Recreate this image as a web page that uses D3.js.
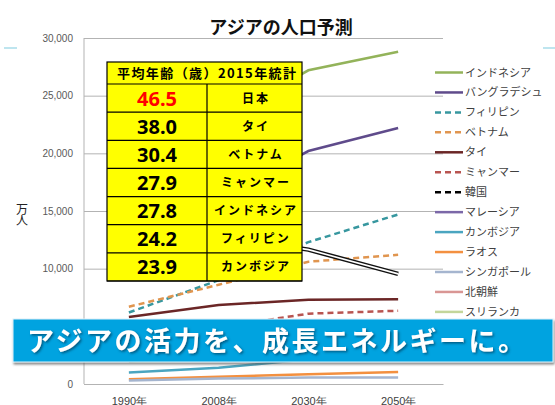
<!DOCTYPE html>
<html>
<head>
<meta charset="utf-8">
<script src="https://cdn.jsdelivr.net/npm/d3@7"></script>
<style>
  body { margin: 0; background: #fff; }
  svg { display: block; font-family: "Noto Sans CJK JP", "Noto Sans", sans-serif; }
</style>
</head>
<body>
<svg width="555" height="405"></svg>
<script>
// chart data (万人)
const years = ["1990年", "2008年", "2030年", "2050年"];
const yTicks = [0, 5000, 10000, 15000, 20000, 25000, 30000];

const countries = ["インドネシア", "バングラデシュ", "フィリピン", "ベトナム", "タイ", "ミャンマー", "韓国",
  "マレーシア", "カンボジア", "ラオス", "シンガポール", "北朝鮮", "スリランカ"];
const colors = ["#93b35a", "#5f4b8b", "#37979f", "#e0954f", "#6b2626", "#b85450", "#000000",
  "#7b68a8", "#4aa5c0", "#f39040", "#a5b5cf", "#d99694", "#c3d69b"];
const dashed = [false, false, true, true, false, true, true, false, false, false, false, false, false];

const indonesia = [18200, 22800, 27200, 28800];
const bangladesh = [11500, 16000, 20200, 22200];
const philippines = [6200, 9000, 12300, 14700];
const vietnam = [6700, 8600, 10600, 11200];
const thailand = [5800, 6850, 7300, 7350];
const myanmar = [4200, 4900, 6100, 6350];
const korea = [4300, 4850, 5000, 4600];
const malaysia = [1950, 2700, 3500, 4000];
const cambodia = [1000, 1400, 2150, 2500];
const laos = [420, 620, 850, 1050];
const singapore = [300, 470, 560, 570];
const northKorea = [2050, 2350, 2600, 2600];
const sriLanka = [1950, 2050, 2200, 2200];
const japan = [12300, 12800, 11650, 9550];

const seriesValues = [indonesia, bangladesh, philippines, vietnam, thailand, myanmar, korea,
  malaysia, cambodia, laos, singapore, northKorea, sriLanka];

// table: 平均年齢（歳）2015年統計
const ages = ["46.5", "38.0", "30.4", "27.9", "27.8", "24.2", "23.9"];
const tableCountries = ["日本", "タイ", "ベトナム", "ミャンマー", "インドネシア", "フィリピン", "カンボジア"];

const svg = d3.select("svg");

const defs = svg.append("defs");
defs.append("filter").attr("id", "bannerShadow")
  .attr("x", "-5%").attr("y", "-20%").attr("width", "110%").attr("height", "150%")
  .append("feDropShadow")
  .attr("dx", 1).attr("dy", 2).attr("stdDeviation", 1.2)
  .attr("flood-color", "#555").attr("flood-opacity", 0.7);
defs.append("filter").attr("id", "textShadow")
  .append("feDropShadow")
  .attr("dx", 1.5).attr("dy", 1.5).attr("stdDeviation", 0.8)
  .attr("flood-color", "#003a5c").attr("flood-opacity", 0.7);

// slide decoration
svg.append("line").attr("x1", 4).attr("x2", 17).attr("y1", 48).attr("y2", 48)
  .attr("stroke", "#a8dcea").attr("stroke-width", 1.5);
svg.append("line").attr("x1", 543).attr("x2", 555).attr("y1", 48).attr("y2", 48)
  .attr("stroke", "#a8dcea").attr("stroke-width", 1.5);

// scales
const x = d3.scalePoint()
  .domain(years)
  .range([84, 443])
  .padding(0.5);

const y = d3.scaleLinear()
  .domain([0, 30000])
  .range([384, 38]);

// title
svg.append("text")
  .attr("x", 281).attr("y", 34)
  .attr("text-anchor", "middle")
  .attr("font-size", 18).attr("font-weight", "bold")
  .attr("fill", "#111")
  .text("アジアの人口予測");

// y axis with gridlines (5,000 label sits under the banner, so left blank)
const yAxis = d3.axisLeft(y)
  .tickValues(yTicks)
  .tickSize(-(443 - 84))
  .tickPadding(11)
  .tickFormat(d => d === 5000 ? "" : d3.format(",")(d));

const yg = svg.append("g")
  .attr("transform", "translate(84,0)")
  .call(yAxis);
yg.select(".domain").remove();
yg.selectAll(".tick line").attr("stroke", "#b3b3b3");
yg.selectAll(".tick text")
  .attr("font-size", 10).attr("fill", "#595959")
  .attr("font-family", "'Liberation Sans', Arial, sans-serif");

svg.append("line").attr("x1", 84).attr("x2", 84).attr("y1", 38).attr("y2", 384)
  .attr("stroke", "#b3b3b3");

// x axis
const xAxis = d3.axisBottom(x).tickSize(0).tickPadding(13);
const xg = svg.append("g")
  .attr("transform", "translate(0,384)")
  .call(xAxis);
xg.select(".domain").attr("stroke", "#b3b3b3");
xg.selectAll(".tick text").attr("font-size", 11).attr("fill", "#404040");

// y label 万人 (vertical)
svg.append("text")
  .attr("x", 22).attr("y", 203)
  .attr("font-size", 12).attr("fill", "#222")
  .attr("writing-mode", "vertical-rl")
  .attr("letter-spacing", -1)
  .text("万人");

// series lines
const line = d3.line()
  .x((d, i) => x(years[i]))
  .y(d => y(d));

const linesGroup = svg.append("g").attr("fill", "none");
seriesValues.forEach((vals, i) => {
  linesGroup.append("path")
    .attr("d", line(vals))
    .attr("stroke", colors[i])
    .attr("stroke-width", 2.5)
    .attr("stroke-dasharray", dashed[i] ? "6,4" : null);
});

// japan: double black line
linesGroup.append("path").attr("d", line(japan))
  .attr("stroke", "#111").attr("stroke-width", 4.5);
linesGroup.append("path").attr("d", line(japan))
  .attr("stroke", "#fff").attr("stroke-width", 1.6);

// legend
const legend = svg.append("g");
countries.forEach((name, i) => {
  const ly = 72.5 + i * 19.95;
  legend.append("line")
    .attr("x1", 435).attr("x2", 463).attr("y1", ly).attr("y2", ly)
    .attr("stroke", colors[i]).attr("stroke-width", 2.5)
    .attr("stroke-dasharray", dashed[i] ? "6,4" : null);
  legend.append("text")
    .attr("x", 465).attr("y", ly + 4)
    .attr("font-size", 11).attr("fill", "#404040")
    .text(name);
});

// table
const rowY = d3.scaleLinear().domain([0, 7]).range([84, 281]);
const table = svg.append("g");
table.append("rect")
  .attr("x", 107).attr("y", 62).attr("width", 195).attr("height", 219)
  .attr("fill", "#ffff00").attr("stroke", "#000").attr("stroke-width", 1.2);
table.append("text")
  .attr("x", 117).attr("y", 78)
  .attr("font-size", 13).attr("font-weight", "bold")
  .attr("textLength", 179).attr("lengthAdjust", "spacing")
  .text("平均年齢（歳）2015年統計");
d3.range(8).forEach(i => {
  table.append("line")
    .attr("x1", 107).attr("x2", 302).attr("y1", rowY(i)).attr("y2", rowY(i))
    .attr("stroke", "#000").attr("stroke-width", 1.2);
});
table.append("line")
  .attr("x1", 207).attr("x2", 207).attr("y1", 84).attr("y2", 281)
  .attr("stroke", "#000").attr("stroke-width", 1.2);

ages.forEach((a, i) => {
  const cy = (rowY(i) + rowY(i + 1)) / 2;
  table.append("text")
    .attr("x", 157).attr("y", cy + 7.5)
    .attr("text-anchor", "middle")
    .attr("font-family", "'Noto Sans', sans-serif")
    .attr("font-size", 20).attr("font-weight", "bold")
    .attr("fill", i === 0 ? "#ff0000" : "#000")
    .text(a);
  table.append("text")
    .attr("x", 256).attr("y", cy + 4.5)
    .attr("text-anchor", "middle")
    .attr("font-size", 12).attr("font-weight", "bold")
    .attr("letter-spacing", 2)
    .text(tableCountries[i]);
});

// banner
svg.append("rect")
  .attr("x", 13).attr("y", 319).attr("width", 540).attr("height", 43)
  .attr("fill", "#04a3e0")
  .attr("stroke", "#dff2fa").attr("stroke-width", 1)
  .attr("filter", "url(#bannerShadow)");
svg.append("text")
  .attr("x", 27).attr("y", 351)
  .attr("font-size", 27).attr("font-weight", "bold")
  .attr("fill", "#fff")
  .attr("textLength", 498).attr("lengthAdjust", "spacing")
  .attr("filter", "url(#textShadow)")
  .text("アジアの活力を、成長エネルギーに。");
</script>
</body>
</html>
